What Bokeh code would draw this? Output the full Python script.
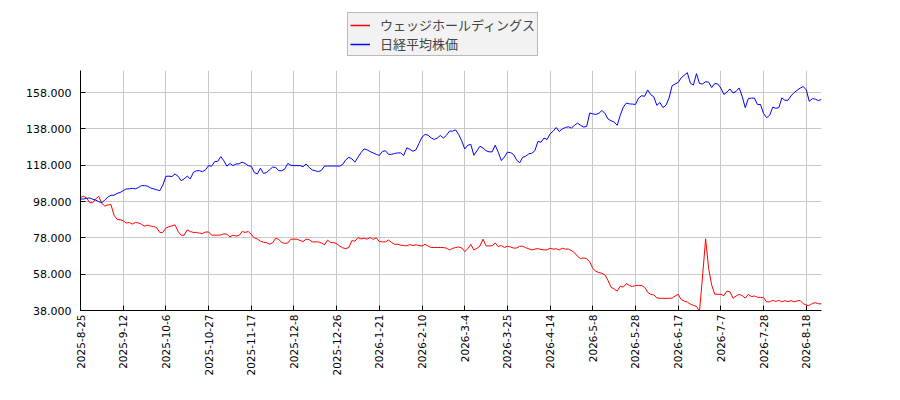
import math
from bokeh.plotting import figure
from bokeh.layouts import column
from bokeh.models import FixedTicker, Legend, LegendItem, NumeralTickFormatter, Range1d
from bokeh.embed import file_html
from bokeh.resources import INLINE

# x tick labels, one every 14 trading days
tick_labels = ["2025-8-25", "2025-9-12", "2025-10-6", "2025-10-27", "2025-11-17",
               "2025-12-8", "2025-12-26", "2026-1-21", "2026-2-10", "2026-3-4",
               "2026-3-25", "2026-4-14", "2026-5-8", "2026-5-28", "2026-6-17",
               "2026-7-7", "2026-7-28", "2026-8-18"]
tick_step = 14

y_ticks = [38, 58, 78, 98, 118, 138, 158]

names = ["ウェッジホールディングス", "日経平均株価"]
colors = ["#ff0000", "#0000ff"]

# ウェッジホールディングス (indexed, start = 100)
wedge = [
    100.3, 100.9, 100, 97.4, 97.4, 99.5, 100.9, 97, 95.5, 96.2,
    96.3, 90.5, 88.2, 88, 87.4, 86.2, 86.5, 85.6, 86.5, 86.2,
    85.5, 84.5, 85, 84.5, 84.3, 83.5, 81, 81, 83.4, 84.2,
    84.6, 85.2, 81.5, 79.5, 79.5, 82.4, 81.5, 81, 81, 80.6,
    80.4, 81.2, 81.3, 79.5, 79.5, 79.5, 79.6, 80.2, 80, 78.6,
    79.5, 79, 79.3, 81.5, 81, 81.5, 80, 78, 77.4, 76.2,
    75.6, 75.4, 74.5, 75.3, 77.8, 77.2, 75.4, 75, 75.2, 77.3,
    77.3, 77.3, 76.5, 76, 77.3, 77, 75.8, 75.8, 75.8, 75.2,
    74.2, 76.8, 75.4, 75.4, 74.8, 73.5, 72.5, 72.1, 72.7, 76.5,
    76.2, 78.2, 77.4, 77.8, 77.3, 78.2, 77.2, 78, 76, 75.8,
    75.8, 76.8, 75.5, 74.5, 74.5, 74, 73.8, 73.6, 74.3, 73.8,
    74.2, 73.8, 73.5, 74.5, 73.5, 72.7, 72.7, 72.7, 72.7, 72.7,
    72.3, 71.4, 72.2, 72.7, 73, 72.5, 70.5, 72, 74.4, 71.4,
    72.2, 73.5, 77.3, 73.6, 73.6, 73.6, 75.2, 73.2, 73.8, 72.7,
    73.4, 73, 72.4, 72.4, 73.4, 73.4, 72.6, 72, 71.4, 71.8,
    72.1, 71.6, 71.4, 71.4, 72.3, 71.8, 72, 71.4, 72.3, 71.8,
    71.8, 71, 69.8, 67.8, 66.6, 67, 66.5, 64.8, 61.2, 59.6,
    58.9, 58.5, 57.6, 54.5, 50.8, 49.8, 48.7, 51.3, 50.9, 52.8,
    51.8, 51.2, 51.8, 51.8, 51.8, 50.8, 48, 46.9, 46.6, 45,
    44.7, 44.7, 44.7, 44.7, 44.8, 46, 46.9, 44, 43.2, 42.6,
    41.5, 40.8, 40.2, 37.6, 57, 77.5, 61, 52, 47, 46.9,
    46.9, 46.2, 48.7, 48.3, 44.7, 46, 46.9, 46.2, 44.8, 46.9,
    45.6, 46, 45.3, 45.2, 45.1, 42.7, 42.8, 43.6, 43, 43.6,
    42.8, 43.4, 42.9, 43.4, 42.8, 43.3, 43.5, 41.8, 41, 40.8,
    41.9, 42.3, 41.7, 41.7,
]

# 日経平均株価 (indexed, start = 100)
nikkei = [
    99.4, 99.4, 99.8, 100, 99.3, 98.8, 98, 97.3, 99, 100.5,
    101.5, 101.5, 102.5, 103, 104, 105, 105, 105.3, 105, 105.8,
    106.8, 106.8, 106.5, 105.5, 105, 104.5, 104, 107, 111.9, 112,
    111.8, 113.2, 112, 109.5, 110.5, 112, 110.5, 114, 115, 115,
    114.5, 115.5, 117.8, 117.5, 120, 120.2, 122.8, 120.5, 117.5, 119,
    117.8, 118.7, 118.8, 119.7, 119, 117.8, 117.5, 114, 113.2, 116.4,
    113.5, 114, 115.5, 117, 116.8, 115, 115, 116, 119, 118,
    117.8, 117.8, 117.8, 117.2, 118.7, 116.8, 115.4, 115, 114.5, 115.2,
    117.5, 117.6, 117.6, 117.6, 117.6, 117.5, 118.5, 121, 122.4, 121.5,
    119.7, 122.5, 125, 127, 126.5, 125.5, 124.8, 124, 123.4, 125.6,
    126, 124, 124, 124.5, 124.8, 124.8, 123.4, 127.6, 126.8, 125.7,
    126.5, 130, 133.5, 135, 134.5, 133.1, 132.2, 133, 134.4, 133,
    134.5, 136.8, 136.8, 137.5, 135, 131.5, 127, 129, 129.5, 123.5,
    126, 128.5, 127.5, 126, 125.4, 125.4, 129, 125.2, 120.6, 122.5,
    125.2, 125, 124, 121, 119.3, 122.4, 123, 124.3, 124.6, 126,
    131.1, 130.7, 133, 132.2, 135.3, 136.8, 138.8, 136.6, 138, 138.8,
    139.2, 138.5, 140, 141.2, 140, 139, 139.4, 146.8, 146.3, 146,
    146.6, 148.2, 146.5, 143.5, 142.5, 141.8, 140, 145.5, 150, 152.3,
    151.8, 151.7, 151.5, 155, 156.3, 156, 159.5, 156.9, 155.7, 151,
    152.6, 149.8, 151, 155, 161.8, 162.8, 163.6, 166.2, 167.6, 169,
    163.2, 162.2, 168.5, 163, 162.8, 164, 163.8, 160.8, 163, 162.8,
    160.5, 157, 158.4, 160, 157.8, 158.7, 160.6, 155.8, 149.7, 154.7,
    155, 155, 151.5, 151.5, 146.5, 144.2, 145.5, 150, 149.4, 149.7,
    155.1, 153.8, 153.8, 156.2, 158, 159.3, 160.5, 161.4, 159.5, 153.2,
    154.7, 154.4, 153.6, 154.3,
]

x = list(range(len(wedge)))
tick_pos = [i * tick_step for i in range(len(tick_labels))]

# main chart
p = figure(frame_width=741, frame_height=240,
           min_border_left=80, min_border_top=0, min_border_right=60, min_border_bottom=70,
           x_range=Range1d(0, len(x) - 1), y_range=Range1d(38, 170.2),
           toolbar_location=None, output_backend="svg")
p.outline_line_color = None

p.line(x, wedge, line_color=colors[0], line_width=1)
p.line(x, nikkei, line_color=colors[1], line_width=1)

p.xaxis.ticker = FixedTicker(ticks=tick_pos)
p.xaxis.major_label_overrides = dict(zip(tick_pos, tick_labels))
p.xaxis.major_label_orientation = math.pi / 2
p.yaxis.ticker = FixedTicker(ticks=y_ticks)
p.yaxis.formatter = NumeralTickFormatter(format="0.000")

for ax in (p.xaxis, p.yaxis):
    ax.axis_line_color = "black"
    ax.major_tick_line_color = "black"
    ax.major_tick_in = 5
    ax.major_tick_out = 0
    ax.minor_tick_line_color = None
    ax.major_label_text_font = "DejaVu Sans"
    ax.major_label_text_color = "black"
p.yaxis.major_label_text_font_size = "11px"
p.yaxis.major_label_standoff = 9
p.xaxis.major_label_text_font_size = "10.5px"
p.xaxis.major_label_standoff = 4

p.grid.grid_line_color = "#c8c8c8"
p.grid.grid_line_width = 1

# legend strip above the chart (its frame is aligned with the chart's frame)
lg = figure(width=881, height=70, min_border=0, x_range=Range1d(0, 1), y_range=Range1d(0, 1),
            toolbar_location=None, output_backend="svg")
lg.axis.visible = False
lg.grid.visible = False
lg.outline_line_color = None
items = []
for name, c in zip(names, colors):
    r = lg.line(x=[float("nan")], y=[float("nan")], line_color=c, line_width=1.5)
    items.append(LegendItem(label=name, renderers=[r]))

legend = Legend(items=items, location=(267, 14))
legend.label_text_font = "Noto Sans CJK JP"
legend.label_text_font_size = "13px"
legend.label_height = 16
legend.glyph_height = 16
legend.glyph_width = 20
legend.label_standoff = 10
legend.padding = 2
legend.spacing = 0
legend.margin = 0
legend.background_fill_color = "#f2f2f2"
legend.background_fill_alpha = 1
legend.border_line_color = "#808080"
lg.add_layout(legend)

layout = column(lg, p, spacing=0)
open("out.html", "w").write(file_html(layout, INLINE))
